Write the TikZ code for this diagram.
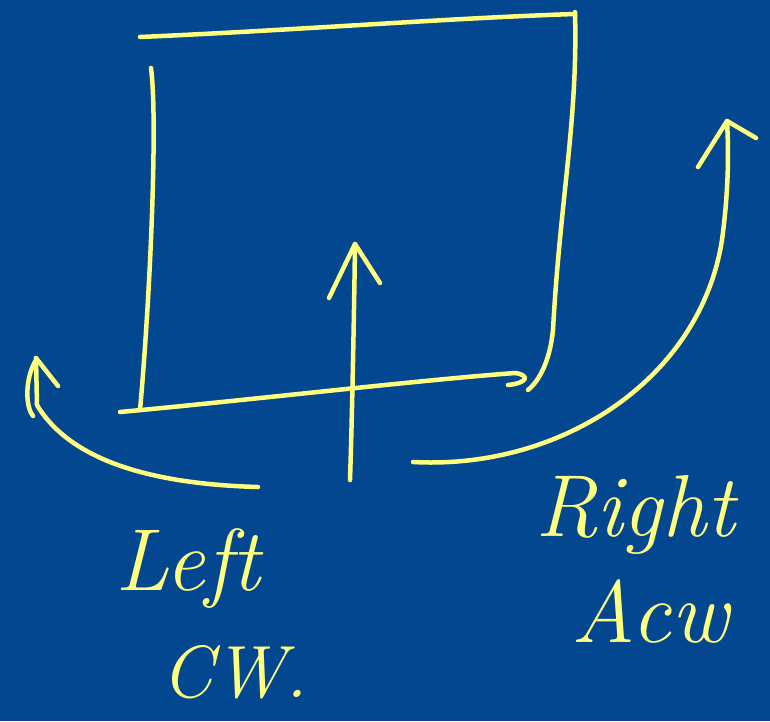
\documentclass[tikz,border=0pt]{standalone}
\begin{document}
\definecolor{bgblue}{RGB}{4,71,145}
\definecolor{penyellow}{RGB}{255,255,128}
\begin{tikzpicture}[x=1pt,y=-1pt,
  pen/.style={draw=penyellow,line width=4.5pt,line cap=round,line join=round},
  hand/.style={text=penyellow,inner sep=0pt,font=\fontsize{88}{88}\selectfont\itshape},
  handsmall/.style={hand,font=\fontsize{74}{74}\selectfont\itshape}]
\fill[bgblue] (0,0) rectangle (770,721);
\useasboundingbox (0,0) rectangle (770,721);
% square
\draw[pen] (140,37) .. controls (300,30) and (450,18) .. (575,14);
\draw[pen] (575,12) .. controls (578,120) and (560,200) .. (553,330) .. controls (550,360) and (540,380) .. (528,390);
\draw[pen] (151,68) .. controls (158,120) and (150,300) .. (140,410);
\draw[pen] (120,412) .. controls (250,400) and (420,380) .. (515,373) .. controls (530,375) and (528,383) .. (508,385);
% centre arrow
\coordinate (c1) at (350,480);
\coordinate (c2) at (355,244);
\draw[pen] (c1) .. controls (352,420) and (354,320) .. (c2);
\draw[pen] (329,298) -- (c2) -- (380,283);
% left arrow
\coordinate (l1) at (258,487);
\coordinate (l2) at (36,358);
\draw[pen] (l1) .. controls (150,484) and (70,460) .. (37,405) -- (l2);
\draw[pen] (l2) -- (58,386);
\draw[pen] (36,360) .. controls (24,380) and (26,408) .. (33,416);
% right arrow
\coordinate (r1) at (413,462);
\coordinate (r2) at (727,121);
\draw[pen] (r1) .. controls (560,470) and (700,380) .. (722,240) .. controls (730,180) and (728,140) .. (r2);
\draw[pen] (698,167) -- (r2) -- (756,138);
% labels
\node[hand] (left) at (188,568) {Left};
\node[handsmall] (cw) at (235,672) {CW.};
\node[hand] (right) at (635,515) {Right};
\node[hand] (acw) at (650,612) {Acw};
\end{tikzpicture}
\end{document}
